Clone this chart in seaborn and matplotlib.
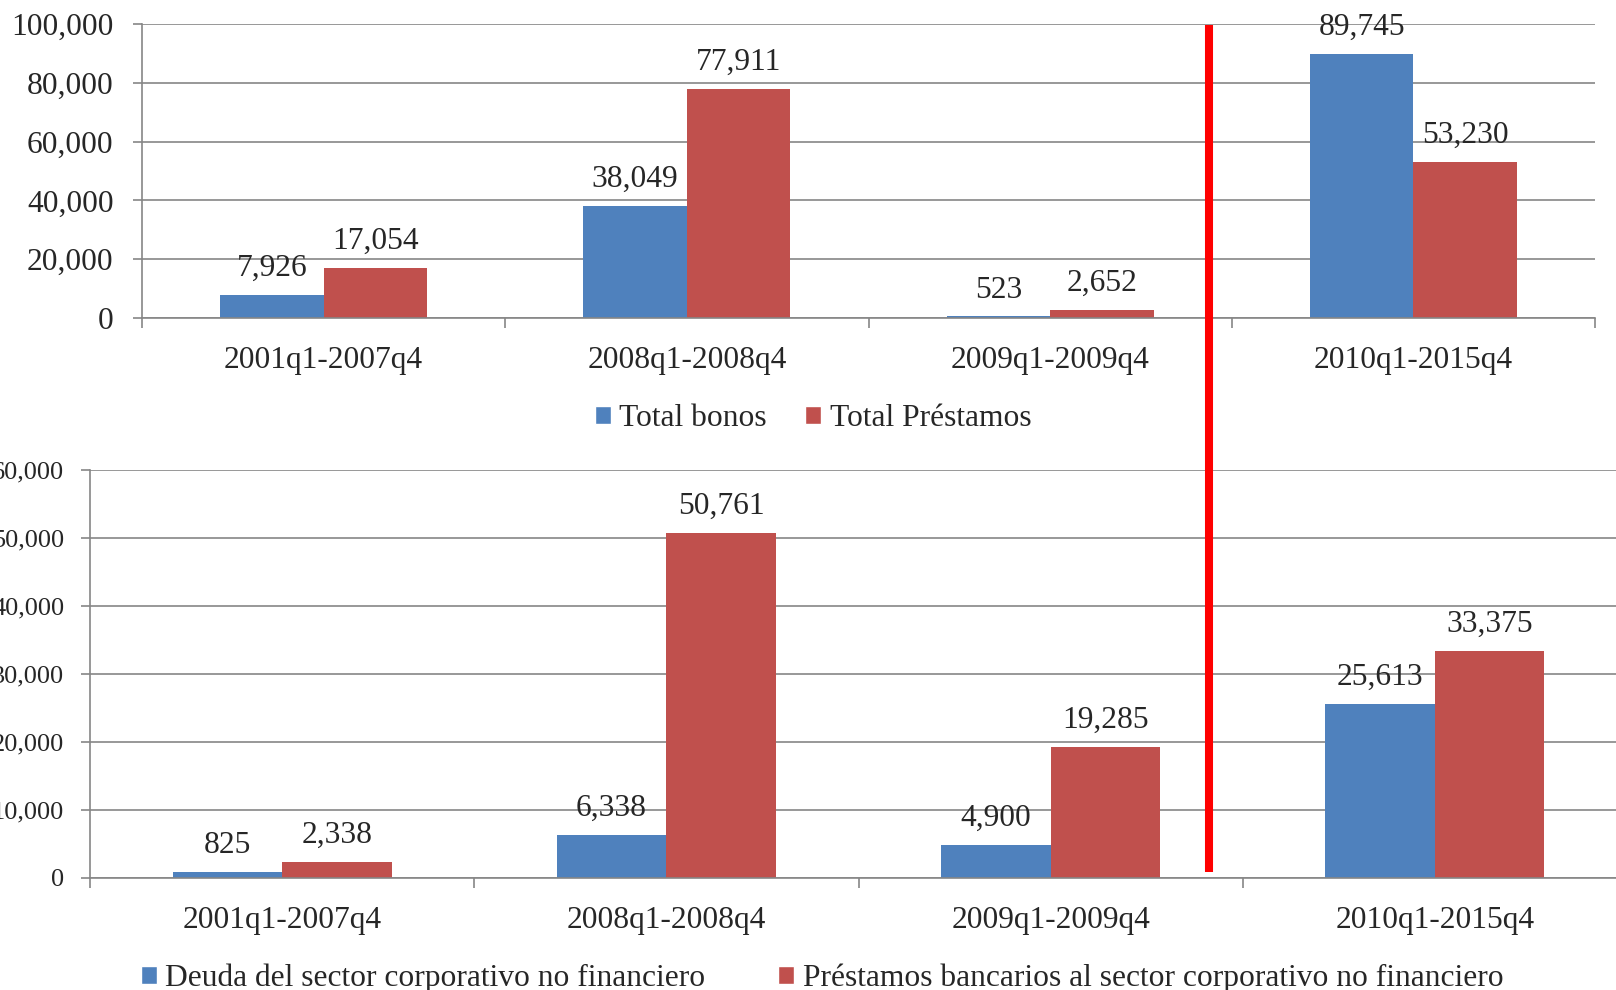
import numpy as np
import pandas as pd
import matplotlib
matplotlib.use("Agg")
import matplotlib.pyplot as plt
from matplotlib.patches import Patch
from matplotlib.lines import Line2D
import seaborn as sns

# ---- data -------------------------------------------------------------
periods = ["2001q1-2007q4", "2008q1-2008q4", "2009q1-2009q4", "2010q1-2015q4"]

top_series = ["Total bonos", "Total Préstamos"]
total_bonos = [7926, 38049, 523, 89745]
total_prestamos = [17054, 77911, 2652, 53230]

bottom_series = ["Deuda del sector corporativo no financiero",
                 "Préstamos bancarios al sector corporativo no financiero"]
deuda_corporativa = [825, 6338, 4900, 25613]
prestamos_bancarios = [2338, 50761, 19285, 33375]

top_ticks = [0, 20000, 40000, 60000, 80000, 100000]
bottom_ticks = [0, 10000, 20000, 30000, 40000, 50000, 60000]

# ---- style ------------------------------------------------------------
sns.set_theme(style="white")
plt.rcParams["font.family"] = ["Liberation Serif", "DejaVu Serif"]
FS = 22.7
BLUE = "#4F81BD"
RED = "#C0504D"
GRID = "#868686"


def long_frame(series_names, values_a, values_b):
    return pd.DataFrame({
        "periodo": periods * 2,
        "serie": [series_names[0]] * len(periods) + [series_names[1]] * len(periods),
        "valor": list(values_a) + list(values_b),
    })


def draw_panel(ax, df, series_names, ticks, ytick_pad, ytick_size):
    sns.barplot(data=df, x="periodo", y="valor", hue="serie",
                order=periods, hue_order=series_names,
                palette={series_names[0]: BLUE, series_names[1]: RED},
                width=0.57, linewidth=0, saturation=1, errorbar=None,
                legend=False, ax=ax)
    ax.set_xlim(-0.5, len(periods) - 0.5)
    ax.set_ylim(ticks[0], ticks[-1])
    ax.set_yticks(ticks)
    ax.set_yticklabels([f"{t:,}" for t in ticks], fontsize=ytick_size)
    ax.set_xlabel("")
    ax.set_ylabel("")
    ax.yaxis.grid(True, color=GRID, linewidth=1.2)
    ax.set_axisbelow(True)
    for side in ("top", "right"):
        ax.spines[side].set_visible(False)
    for side in ("left", "bottom"):
        ax.spines[side].set_color(GRID)
        ax.spines[side].set_linewidth(1.2)
    # category labels on major ticks, boundary marks on minor ticks
    ax.set_xticks(range(len(periods)))
    ax.set_xticklabels(periods, fontsize=FS)
    ax.set_xticks(np.arange(-0.5, len(periods)), minor=True)
    ax.tick_params(axis="x", which="major", length=0, pad=20)
    ax.tick_params(axis="x", which="minor", length=7, width=1.2,
                   color=GRID, direction="out", bottom=True)
    ax.tick_params(axis="y", which="major", length=6.5, width=1.2,
                   color=GRID, direction="out", left=True, pad=ytick_pad)
    for container in ax.containers:
        vals = [bar.get_height() for bar in container]
        ax.bar_label(container, labels=[f"{int(round(v)):,}" for v in vals],
                     padding=8.6, fontsize=FS)


fig = plt.figure(figsize=(16.16, 9.90), dpi=100)

ax_top = fig.add_axes([142 / 1616, 1 - 318 / 990, 1453 / 1616, 294 / 990])
draw_panel(ax_top, long_frame(top_series, total_bonos, total_prestamos),
           top_series, top_ticks, ytick_pad=14, ytick_size=FS)

ax_bot = fig.add_axes([90 / 1616, 1 - 878 / 990, 1537 / 1616, 408 / 990])
draw_panel(ax_bot, long_frame(bottom_series, deuda_corporativa, prestamos_bancarios),
           bottom_series, bottom_ticks, ytick_pad=12, ytick_size=19)

# legends
legend_kw = dict(loc="center", frameon=False, fontsize=FS,
                 handlelength=0.5, handleheight=0.5, handletextpad=0.28,
                 borderaxespad=0, borderpad=0)
fig.legend(handles=[Patch(facecolor=BLUE), Patch(facecolor=RED)],
           labels=top_series, ncol=2, columnspacing=1.2,
           bbox_to_anchor=(813 / 1616, 1 - 419 / 990), **legend_kw)
fig.legend(handles=[Patch(facecolor=BLUE), Patch(facecolor=RED)],
           labels=bottom_series, ncol=2, columnspacing=2.3,
           bbox_to_anchor=(822 / 1616, 1 - 978 / 990), **legend_kw)

# vertical red separator between the crisis years and the later period
fig.add_artist(Line2D([1209 / 1616, 1209 / 1616], [1 - 25 / 990, 1 - 872 / 990],
                      transform=fig.transFigure, color="#FF0000", linewidth=5.8,
                      solid_capstyle="butt"))

fig.savefig("out.png", dpi=100)
